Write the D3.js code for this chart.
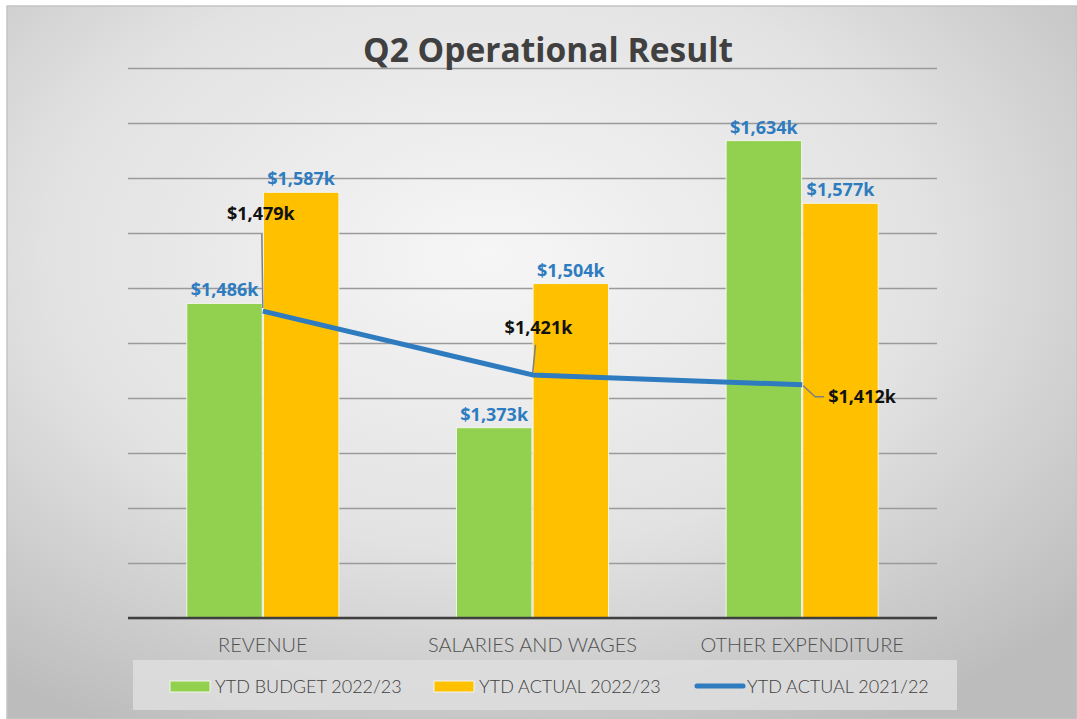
<!DOCTYPE html>
<html>
<head>
<meta charset="utf-8">
<script src="https://cdn.jsdelivr.net/npm/d3@7"></script>
<style>
  body { margin: 0; background: #fff; }
  svg { display: block; }
</style>
</head>
<body>
<div id="chart"></div>
<script>
// data
var categories = ["REVENUE", "SALARIES AND WAGES", "OTHER EXPENDITURE"];
var budget2223 = [1486, 1373, 1634];
var actual2223 = [1587, 1504, 1577];
var actual2122 = [1479, 1421, 1412];
var seriesNames = ["YTD BUDGET 2022/23", "YTD ACTUAL 2022/23", "YTD ACTUAL 2021/22"];
var yTicks = [1200, 1250, 1300, 1350, 1400, 1450, 1500, 1550, 1600, 1650, 1700];

var width = 1077, height = 719;
var plot = {left: 128, right: 937, top: 68, bottom: 618};
var green = "#92d050", orange = "#ffc000", blue = "#2e7bbf", labelBlue = "#2e7cc0";

var svg = d3.select("#chart").append("svg")
    .attr("width", width)
    .attr("height", height);

var defs = svg.append("defs");
var grad = defs.append("radialGradient")
    .attr("id", "bg")
    .attr("cx", "45%").attr("cy", "35%").attr("r", "75%");
grad.append("stop").attr("offset", "0%").attr("stop-color", "#f6f6f6");
grad.append("stop").attr("offset", "55%").attr("stop-color", "#e2e2e2");
grad.append("stop").attr("offset", "100%").attr("stop-color", "#bcbcbc");

svg.append("rect")
    .attr("x", 7).attr("y", 6)
    .attr("width", width - 7).attr("height", height - 6)
    .style("fill", "url(#bg)")
    .style("stroke", "#c4c4c4")
    .style("stroke-width", 1.5);

var x = d3.scaleBand()
    .domain(categories)
    .range([plot.left, plot.right])
    .paddingInner(0.436)
    .paddingOuter(0.218);
var xSub = d3.scaleBand()
    .domain([0, 1])
    .range([0, x.bandwidth()])
    .paddingInner(0.015);
var y = d3.scaleLinear()
    .domain([1200, 1700])
    .range([plot.bottom, plot.top]);

// gridlines
var yAxis = d3.axisLeft(y)
    .tickValues(yTicks)
    .tickSize(-(plot.right - plot.left))
    .tickFormat("");
var grid = svg.append("g")
    .attr("class", "grid")
    .attr("transform", "translate(" + plot.left + ",0)")
    .call(yAxis);
grid.select(".domain").remove();
grid.selectAll("line")
    .style("stroke", "#9a9a9a")
    .style("stroke-width", 1.6);

// title
svg.append("text")
    .attr("x", 548)
    .attr("y", 62)
    .attr("text-anchor", "middle")
    .style("font-family", "'Open Sans', sans-serif")
    .style("font-weight", 700)
    .style("font-size", "34px")
    .style("fill", "#404040")
    .attr("textLength", 370)
    .attr("lengthAdjust", "spacingAndGlyphs")
    .text("Q2 Operational Result");

// bars
var barSeries = [budget2223, actual2223];
var barColors = [green, orange];
var groups = svg.append("g").attr("class", "bars")
    .selectAll("g")
    .data(categories)
    .enter().append("g")
    .attr("transform", function(d) { return "translate(" + x(d) + ",0)"; });

groups.selectAll("rect")
    .data(function(d, i) { return barSeries.map(function(s, j) { return {s: j, value: s[i]}; }); })
    .enter().append("rect")
    .attr("x", function(d) { return xSub(d.s); })
    .attr("width", xSub.bandwidth())
    .attr("y", function(d) { return y(d.value); })
    .attr("height", function(d) { return plot.bottom - y(d.value); })
    .style("fill", function(d) { return barColors[d.s]; })
    .style("stroke", "#f4f4ec")
    .style("stroke-width", 1);

groups.selectAll("text")
    .data(function(d, i) { return barSeries.map(function(s, j) { return {s: j, value: s[i]}; }); })
    .enter().append("text")
    .attr("x", function(d) { return xSub(d.s) + xSub.bandwidth() / 2; })
    .attr("y", function(d) { return y(d.value) - 7; })
    .attr("text-anchor", "middle")
    .style("font-family", "'Open Sans', sans-serif")
    .style("font-weight", 700)
    .style("font-size", "18px")
    .style("fill", labelBlue)
    .text(function(d) { return "$" + d3.format(",")(d.value) + "k"; });

// baseline
svg.append("line")
    .attr("x1", plot.left).attr("x2", plot.right)
    .attr("y1", plot.bottom).attr("y2", plot.bottom)
    .style("stroke", "#3f3f3f")
    .style("stroke-width", 2.5);

// line series
var lineData = categories.map(function(c, i) { return {cat: c, value: actual2122[i]}; });
var line = d3.line()
    .x(function(d) { return x(d.cat) + x.bandwidth() / 2; })
    .y(function(d) { return y(d.value); });

// leader lines + labels for the line series
var lineLabelPos = [
    {dx: -2, dy: -91, anchor: "middle", leader: [[0, -3], [-1, -77]]},
    {dx: 6, dy: -41, anchor: "middle", leader: [[0, 0], [3, -30]]},
    {dx: 26, dy: 18, anchor: "start", leader: [[1, 1], [13, 12], [22, 12]]}
];
var lineLabels = svg.append("g").attr("class", "linelabels");
lineData.forEach(function(d, i) {
    var px = x(d.cat) + x.bandwidth() / 2, py = y(d.value);
    var p = lineLabelPos[i];
    lineLabels.append("path")
        .attr("d", d3.line()(p.leader.map(function(q) { return [px + q[0], py + q[1]]; })))
        .style("fill", "none")
        .style("stroke", "#7f7f7f")
        .style("stroke-width", 1.5);
});

svg.append("path")
    .datum(lineData)
    .attr("d", line)
    .style("fill", "none")
    .style("stroke", blue)
    .style("stroke-width", 5)
    .style("stroke-linejoin", "round");

lineData.forEach(function(d, i) {
    var px = x(d.cat) + x.bandwidth() / 2, py = y(d.value);
    var p = lineLabelPos[i];
    lineLabels.append("text")
        .attr("x", px + p.dx)
        .attr("y", py + p.dy)
        .attr("text-anchor", p.anchor)
        .style("font-family", "'Open Sans', sans-serif")
        .style("font-weight", 700)
        .style("font-size", "18px")
        .style("fill", "#111")
        .text("$" + d3.format(",")(d.value) + "k");
});

// category axis labels
var xAxis = d3.axisBottom(x).tickSize(0).tickPadding(0);
var xg = svg.append("g")
    .attr("transform", "translate(0," + plot.bottom + ")")
    .call(xAxis);
xg.select(".domain").remove();
xg.selectAll("text")
    .attr("y", 34)
    .attr("dy", 0)
    .style("font-family", "Lato, sans-serif")
    .style("font-weight", 300)
    .style("font-size", "20px")
    .style("fill", "#505050");

// legend
var legend = svg.append("g").attr("class", "legend");
legend.append("rect")
    .attr("x", 133).attr("y", 660)
    .attr("width", 824).attr("height", 50)
    .style("fill", "#dedede")
    .style("opacity", 0.85);

var legendX = [170, 434, 697];
seriesNames.forEach(function(name, i) {
    var g = legend.append("g").attr("transform", "translate(" + legendX[i] + ",686)");
    if (i < 2) {
        g.append("rect")
            .attr("x", 0).attr("y", -5)
            .attr("width", 40).attr("height", 11)
            .style("fill", barColors[i])
            .style("stroke", "#f4f4ec")
            .style("stroke-width", 1);
    } else {
        g.append("line")
            .attr("x1", 0).attr("x2", 46)
            .attr("y1", 0).attr("y2", 0)
            .style("stroke", blue)
            .style("stroke-width", 5)
            .style("stroke-linecap", "round");
    }
    g.append("text")
        .attr("x", i < 2 ? 45 : 50)
        .attr("y", 7)
        .style("font-family", "Lato, sans-serif")
        .style("font-weight", 300)
        .style("font-size", "18px")
        .style("fill", "#404040")
        .text(name);
});
</script>
</body>
</html>
